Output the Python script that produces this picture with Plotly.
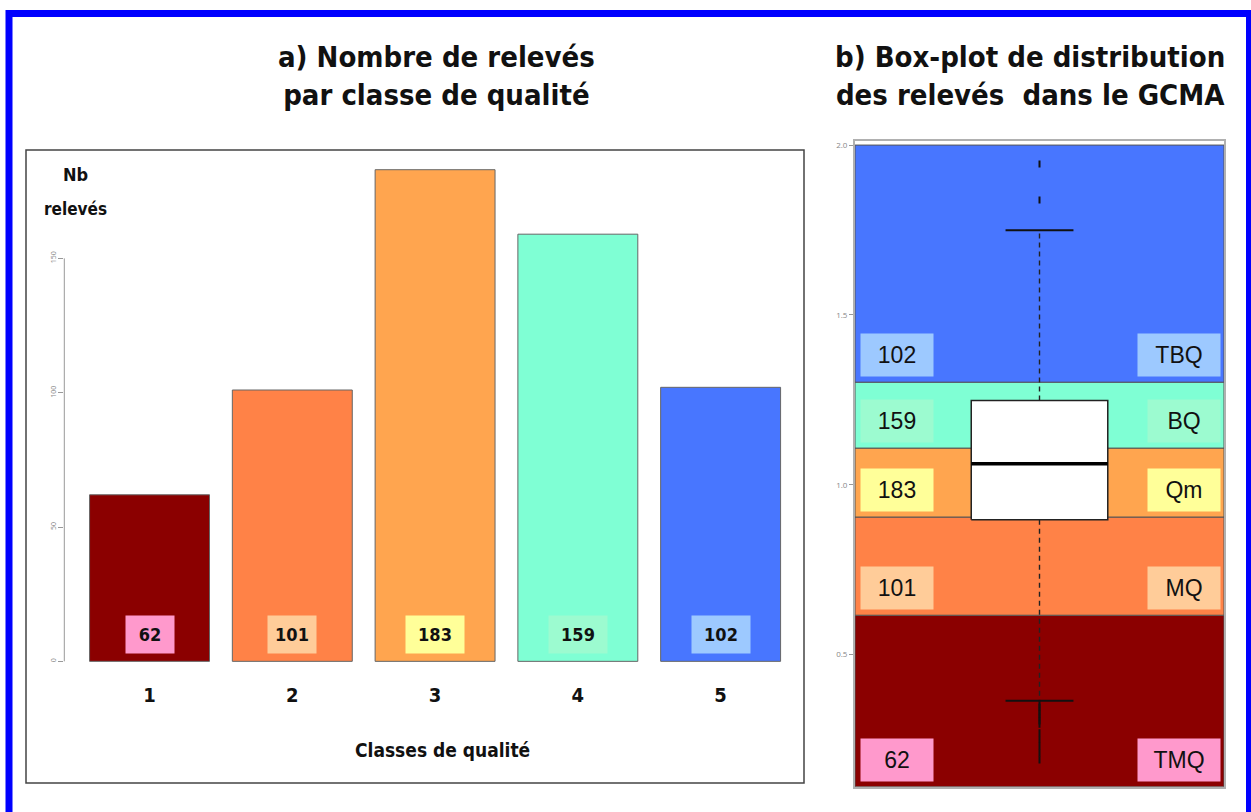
import plotly.graph_objects as go

W, H = 1251, 812

# ---------------- data ----------------
classes = ["1", "2", "3", "4", "5"]
counts = [62, 101, 183, 159, 102]
class_codes = ["TMQ", "MQ", "Qm", "BQ", "TBQ"]
class_bounds = [0.111, 0.616, 0.905, 1.108, 1.302, 2.0]

box_q1 = 0.897
box_median = 1.062
box_q3 = 1.248
whisker_low = 0.364
whisker_high = 1.749
outliers_high = [1.838, 1.944]
outliers_low = [0.355, 0.345, 0.335, 0.325, 0.315, 0.305, 0.295,
                0.27, 0.25, 0.23, 0.21, 0.19]

left_yticks = [0, 50, 100, 150]
right_yticks = [0.5, 1.0, 1.5, 2.0]
right_yticklabels = ["0.5", "1.0", "1.5", "2.0"]

# ---------------- styles ----------------
bar_colors = ["#8B0000", "#FF8247", "#FFA54F", "#7FFFD4", "#4876FF"]
label_bg = ["#FF99CC", "#FFCC99", "#FFFF99", "#9CFBD0", "#9DC9FF"]
NARROW = "Liberation Sans Narrow, DejaVu Sans Condensed, Arial Narrow, sans-serif"
REG = "Liberation Sans, Arial, sans-serif"


def px_x(p):
    return p / W


def px_y(p):
    return 1 - p / H


fig = go.Figure()

# ---- panel a: bars ----
fig.add_trace(go.Bar(
    x=classes, y=counts, marker=dict(color=bar_colors, line=dict(color="#666", width=1)),
    xaxis="x", yaxis="y", showlegend=False, hoverinfo="x+y",
))

# ---- panel b: class bands ----
band_base = class_bounds[:-1]
band_height = [class_bounds[i + 1] - class_bounds[i] for i in range(len(class_codes))]
fig.add_trace(go.Bar(
    x=[0.5] * len(class_codes), y=band_height, base=band_base, width=[1.0] * len(class_codes),
    marker=dict(color=bar_colors, line=dict(color="#555", width=1)),
    xaxis="x2", yaxis="y2", showlegend=False, hoverinfo="skip",
))

bw = 0.185
cw = 0.092
cx = 0.5
# whiskers (dashed)
for y0, y1 in [(box_q3, whisker_high), (box_q1, whisker_low)]:
    fig.add_trace(go.Scatter(x=[cx, cx], y=[y0, y1], mode="lines",
                             line=dict(color="#222", width=1.4, dash="5px,4px"),
                             xaxis="x2", yaxis="y2", showlegend=False, hoverinfo="skip"))
# caps
for yv in [whisker_high, whisker_low]:
    fig.add_trace(go.Scatter(x=[cx - cw, cx + cw], y=[yv, yv], mode="lines",
                             line=dict(color="#111", width=2),
                             xaxis="x2", yaxis="y2", showlegend=False, hoverinfo="skip"))
# box
fig.add_trace(go.Scatter(
    x=[cx - bw, cx + bw, cx + bw, cx - bw, cx - bw],
    y=[box_q1, box_q1, box_q3, box_q3, box_q1],
    mode="lines", fill="toself", fillcolor="white", line=dict(color="#222", width=1.5),
    xaxis="x2", yaxis="y2", showlegend=False, hoverinfo="skip"))
fig.add_trace(go.Scatter(x=[cx - bw, cx + bw], y=[box_median, box_median], mode="lines",
                         line=dict(color="black", width=3.5),
                         xaxis="x2", yaxis="y2", showlegend=False, hoverinfo="skip"))
# outliers
fig.add_trace(go.Scatter(
    x=[cx] * (len(outliers_high) + len(outliers_low)), y=outliers_high + outliers_low,
    mode="markers", marker=dict(symbol="line-ns", size=5, line=dict(color="#111", width=2)),
    xaxis="x2", yaxis="y2", showlegend=False, hoverinfo="y"))

annotations = []
# titles
annotations.append(dict(text="<b>a) Nombre de relevés<br>par classe de qualité</b>",
                        x=px_x(437), y=px_y(36), xref="paper", yref="paper",
                        xanchor="center", yanchor="top", showarrow=False,
                        font=dict(family=NARROW, size=29, color="#111")))
annotations.append(dict(text="<b>b) Box-plot de distribution<br>des relevés&nbsp; dans le GCMA</b>",
                        x=px_x(1030), y=px_y(36), xref="paper", yref="paper",
                        xanchor="center", yanchor="top", showarrow=False,
                        font=dict(family=NARROW, size=29, color="#111")))
# axis labels panel a
annotations.append(dict(text="<b>Nb</b>", x=px_x(75), y=px_y(173),
                        xref="paper", yref="paper", xanchor="center", yanchor="middle",
                        showarrow=False, font=dict(family=NARROW, size=18, color="#111")))
annotations.append(dict(text="<b>relevés</b>", x=px_x(75), y=px_y(208),
                        xref="paper", yref="paper", xanchor="center", yanchor="middle",
                        showarrow=False, font=dict(family=NARROW, size=17, color="#111")))
annotations.append(dict(text="<b>Classes de qualité</b>", x=px_x(442), y=px_y(750),
                        xref="paper", yref="paper", xanchor="center", yanchor="middle",
                        showarrow=False, font=dict(family=NARROW, size=19, color="#111")))
# count labels in bars
left_label_w = [36, 36, 46, 46, 46]
for i, v in enumerate(counts):
    annotations.append(dict(text="<b>%d</b>" % v, x=i, y=0, xref="x", yref="y",
                            xanchor="center", yanchor="bottom", yshift=7, showarrow=False,
                            bgcolor=label_bg[i], borderpad=6, width=left_label_w[i], height=25,
                            font=dict(family=NARROW, size=18, color="#111")))
# labels in bands
for i, code in enumerate(class_codes):
    annotations.append(dict(text=str(counts[i]), x=0, y=class_bounds[i], xref="x2", yref="y2",
                            xanchor="left", yanchor="bottom", xshift=5, yshift=5,
                            showarrow=False, bgcolor=label_bg[i], borderpad=8,
                            width=56, height=26, font=dict(family=REG, size=23, color="#111")))
    annotations.append(dict(text=code, x=1, y=class_bounds[i], xref="x2", yref="y2",
                            xanchor="right", yanchor="bottom", xshift=-3, yshift=5,
                            showarrow=False, bgcolor=label_bg[i], borderpad=8,
                            width=66 if len(code) > 2 else 56, height=26,
                            font=dict(family=REG, size=23, color="#111")))

shapes = [
    # outer blue frame
    dict(type="rect", xref="paper", yref="paper", x0=px_x(9), x1=px_x(1249.5),
         y0=px_y(830), y1=px_y(11.5), line=dict(color="#0000FF", width=7)),
    # frame panel a
    dict(type="rect", xref="paper", yref="paper", x0=px_x(26), x1=px_x(804),
         y0=px_y(783), y1=px_y(148.3), line=dict(color="#444", width=1.5)),
    # y axis line of panel a (from 0 to 150)
    dict(type="line", xref="paper", yref="y", x0=px_x(64.3), x1=px_x(64.3),
         y0=left_yticks[0], y1=left_yticks[-1], line=dict(color="#999", width=1)),
]

fig.update_layout(
    width=W, height=H, margin=dict(l=0, r=0, t=0, b=0),
    paper_bgcolor="white", plot_bgcolor="rgba(0,0,0,0)",
    bargap=0.16,
    xaxis=dict(domain=[px_x(64.3), px_x(792)], type="category", range=[-0.597, 4.5],
               showline=False, showgrid=False, zeroline=False, ticks="",
               tickfont=dict(family=NARROW, size=20, color="#111", weight="bold"),
               fixedrange=True),
    yaxis=dict(domain=[px_y(680.7), px_y(148.4)], range=[-7.32, 190.32],
               tickvals=left_yticks, ticks="outside", ticklen=5, tickcolor="#999",
               tickangle=-90, tickfont=dict(size=7, color="#888"),
               showline=False, showgrid=False, zeroline=False, fixedrange=True),
    xaxis2=dict(domain=[px_x(855), px_x(1224)], range=[0, 1], anchor="y2",
                showticklabels=False, ticks="", showgrid=False, zeroline=False,
                showline=True, mirror=True, linecolor="#b0b0b0", linewidth=2, fixedrange=True),
    yaxis2=dict(domain=[px_y(786.7), px_y(139)], range=[0.111, 2.013], anchor="x2",
                tickvals=right_yticks, ticktext=right_yticklabels, ticks="outside", ticklen=4,
                tickcolor="#999", tickfont=dict(size=8, color="#888"),
                showgrid=False, zeroline=False,
                showline=True, mirror=True, linecolor="#b0b0b0", linewidth=2, fixedrange=True),
    annotations=annotations, shapes=shapes,
)

fig.write_html("out.html", config={"displayModeBar": False},
               post_script="document.body.style.margin='0px';document.body.style.overflow='hidden';")
